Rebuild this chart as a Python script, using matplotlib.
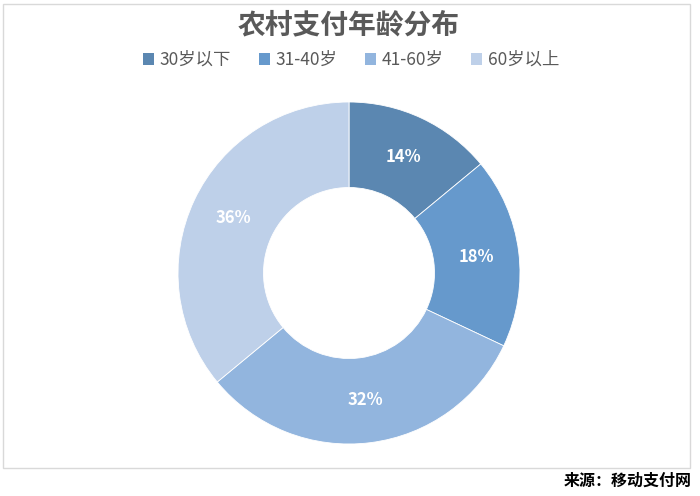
import numpy as np
import matplotlib.pyplot as plt
from matplotlib.patches import Rectangle, Patch

plt.rcParams['font.family'] = ['Noto Sans CJK SC', 'DejaVu Sans']

LABELS = ["30岁以下", "31-40岁", "41-60岁", "60岁以上"]
VALUES = [14, 18, 32, 36]
COLORS = ["#5b87b1", "#6699cc", "#92b5de", "#bed0e9"]

W, H = 700, 496
fig = plt.figure(figsize=(W / 100, H / 100), dpi=100)

# light chart frame
fig.patches.append(Rectangle((3 / W, 1 - 468 / H), 687 / W, 464 / H,
                             transform=fig.transFigure, fill=False,
                             edgecolor="#d9d9d9", lw=1))

# donut axes: centre (349, 273), outer radius 171 px
cx, cy, r = 349, 273, 171
ax = fig.add_axes([(cx - r) / W, 1 - (cy + r) / H, 2 * r / W, 2 * r / H])
wedges, _ = ax.pie(VALUES, colors=COLORS, startangle=90, counterclock=False,
                   radius=1.0, wedgeprops=dict(width=0.5, edgecolor="#ffffff", lw=0.6))
ax.set_xlim(-1, 1)
ax.set_ylim(-1, 1)
ax.set_aspect("equal")

# percent labels in the middle of the ring
start = 90
for v in VALUES:
    mid = np.deg2rad(start - v / 100 * 360 / 2)
    start -= v / 100 * 360
    ax.text(0.75 * np.cos(mid), 0.75 * np.sin(mid), f"{v}%", ha="center", va="center",
            color="white", fontsize=12, fontweight="bold")

fig.text(349 / W, 1 - 25 / H, "农村支付年龄分布", ha="center", va="center",
         fontsize=20, fontweight="bold", color="#595959")

handles = [Patch(facecolor=c, edgecolor="none") for c in COLORS]
fig.legend(handles, LABELS, loc="center", bbox_to_anchor=(351 / W, 1 - 60 / H),
           ncol=4, frameon=False, fontsize=12.5, labelcolor="#595959",
           handlelength=0.65, handleheight=0.65, handletextpad=0.3, columnspacing=1.6)

fig.text(692 / W, 1 - 481 / H, "来源：移动支付网", ha="right", va="center",
         fontsize=11.5, fontweight="bold", color="#000000")

fig.savefig("out.png", dpi=100)
